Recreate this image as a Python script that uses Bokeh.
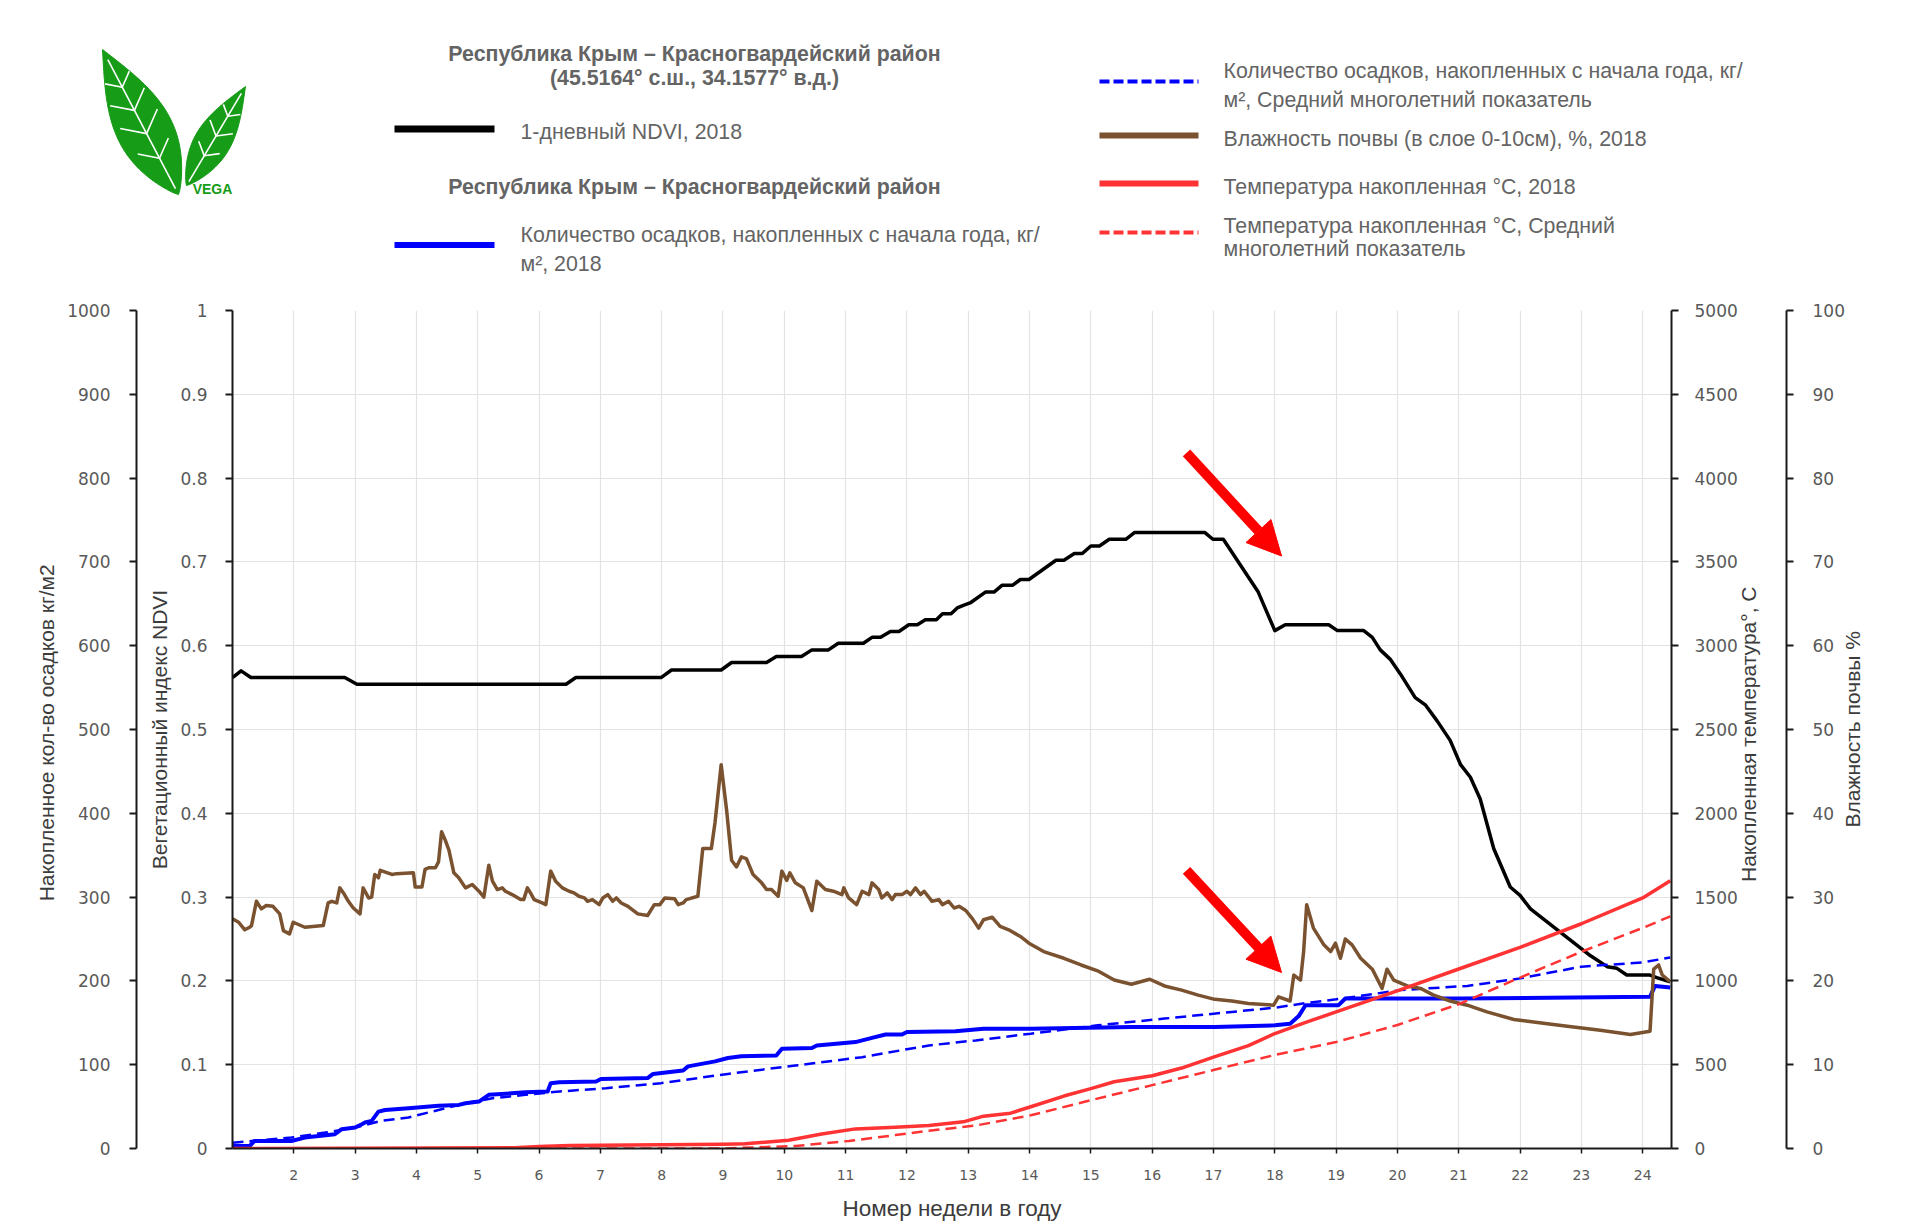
import json
import numpy as np
from bokeh.plotting import figure
from bokeh.models import (Range1d, LinearAxis, FixedTicker, CustomJSTickFormatter,
                          Arrow, NormalHead)
from bokeh.layouts import column
from bokeh.embed import file_html
from bokeh.resources import INLINE
from bokeh.core.properties import value

# ------------------------------------------------------------------ data
week_ticks = list(range(2, 25))
ndvi_ticks = [0, 0.1, 0.2, 0.3, 0.4, 0.5, 0.6, 0.7, 0.8, 0.9, 1]
precip_ticks = [0, 100, 200, 300, 400, 500, 600, 700, 800, 900, 1000]
temp_ticks = [0, 500, 1000, 1500, 2000, 2500, 3000, 3500, 4000, 4500, 5000]
soil_ticks = [0, 10, 20, 30, 40, 50, 60, 70, 80, 90, 100]

# 1-day NDVI 2018 (week number, index)
ndvi_week = [1.0, 1.14, 1.3, 2.83, 3.03, 6.44, 6.6, 7.99, 8.16, 8.97, 9.14, 9.71, 9.87,
             10.28, 10.45, 10.72, 10.88, 11.29, 11.43, 11.57, 11.73, 11.87, 12.03, 12.17,
             12.3, 12.48, 12.58, 12.72, 12.82, 12.92, 13.03, 13.28, 13.42, 13.55, 13.72,
             13.85, 13.99, 14.43, 14.56, 14.73, 14.86, 15.0, 15.14, 15.3, 15.57, 15.71,
             16.86, 16.99, 17.16, 17.73, 18.0, 18.17, 18.88, 19.02, 19.45, 19.59, 19.72,
             19.88, 20.05, 20.29, 20.46, 20.65, 20.86, 21.03, 21.19, 21.35, 21.57, 21.84,
             22.0, 22.17, 22.66, 23.15, 23.42, 23.58, 23.74, 24.12, 24.23, 24.45]
ndvi_value = [0.562, 0.570, 0.562, 0.562, 0.554, 0.554, 0.562, 0.562, 0.571, 0.571, 0.580,
              0.580, 0.587, 0.587, 0.595, 0.595, 0.603, 0.603, 0.610, 0.610, 0.617, 0.617,
              0.625, 0.625, 0.631, 0.631, 0.638, 0.638, 0.645, 0.648, 0.651, 0.664, 0.664,
              0.672, 0.672, 0.679, 0.679, 0.702, 0.702, 0.710, 0.710, 0.719, 0.719, 0.727,
              0.727, 0.735, 0.735, 0.727, 0.727, 0.664, 0.618, 0.625, 0.625, 0.618, 0.618,
              0.610, 0.595, 0.584, 0.566, 0.538, 0.529, 0.510, 0.487, 0.458, 0.443, 0.417,
              0.358, 0.312, 0.302, 0.286, 0.258, 0.230, 0.217, 0.215, 0.207, 0.207, 0.204,
              0.199]

# accumulated precipitation 2018, kg/m2
precip_week = [1.0, 1.28, 1.36, 1.96, 2.18, 2.67, 2.78, 3.0, 3.11, 3.16, 3.27, 3.38, 3.49,
               3.87, 4.36, 4.69, 4.8, 5.02, 5.18, 5.78, 6.14, 6.19, 6.33, 6.93, 7.01, 7.77,
               7.86, 8.1, 8.35, 8.43, 8.65, 8.87, 9.08, 9.3, 9.87, 9.96, 10.45, 10.53,
               11.16, 11.43, 11.65, 11.92, 12.0, 12.79, 13.25, 14.02, 15.66, 17.02, 18.0,
               18.25, 18.39, 18.5, 19.04, 19.15, 19.78, 21.03, 24.12, 24.2, 24.45]
precip_value = [3, 3, 9, 9, 13, 17, 23, 25, 29, 31, 33, 44, 46, 48, 51, 52, 54, 56, 64, 67,
                68, 78, 79, 80, 83, 84, 89, 91, 93, 98, 101, 104, 108, 110, 111, 119, 120,
                123, 127, 132, 136, 136, 139, 140, 143, 143, 145, 145, 147, 149, 158, 171,
                171, 179, 179, 179, 181, 194, 192]

# accumulated precipitation, long-term mean
precip_avg_week = [1.0, 1.96, 2.51, 3.0, 3.43, 3.87, 4.36, 4.8, 5.24, 5.78, 6.33, 7.09,
                   7.99, 9.08, 10.18, 11.27, 12.36, 13.12, 14.02, 15.11, 16.2, 17.3, 18.0,
                   18.55, 19.0, 20.05, 21.14, 22.0, 23.0, 24.0, 24.45]
precip_avg_value = [7, 13, 19, 25, 33, 37, 46, 54, 60, 64, 68, 72, 78, 89, 99, 109, 123,
                    129, 137, 147, 155, 163, 168, 174, 178, 189, 194, 203, 217, 222, 228]

# soil moisture (0-10 cm), %, 2018
soil_week = [1.0, 1.1, 1.2, 1.28, 1.31, 1.39, 1.47, 1.55, 1.66, 1.77, 1.83, 1.93, 1.99,
             2.18, 2.48, 2.56, 2.62, 2.7, 2.75, 2.81, 2.89, 2.97, 3.08, 3.13, 3.22, 3.27,
             3.32, 3.38, 3.41, 3.6, 3.68, 3.95, 3.98, 4.09, 4.14, 4.2, 4.31, 4.36, 4.41,
             4.47, 4.53, 4.61, 4.69, 4.8, 4.91, 5.02, 5.1, 5.18, 5.24, 5.32, 5.4, 5.45,
             5.56, 5.7, 5.75, 5.81, 5.86, 5.92, 6.05, 6.11, 6.19, 6.27, 6.38, 6.49, 6.57,
             6.65, 6.74, 6.79, 6.87, 6.98, 7.04, 7.12, 7.2, 7.26, 7.34, 7.45, 7.61, 7.77,
             7.88, 7.97, 8.05, 8.21, 8.27, 8.35, 8.4, 8.59, 8.67, 8.81, 8.87, 8.97, 9.06,
             9.14, 9.22, 9.3, 9.38, 9.49, 9.63, 9.71, 9.79, 9.9, 9.96, 10.04, 10.09, 10.18,
             10.31, 10.45, 10.53, 10.67, 10.8, 10.94, 10.97, 11.05, 11.18, 11.27, 11.38,
             11.43, 11.54, 11.59, 11.68, 11.76, 11.81, 11.92, 12.0, 12.06, 12.14, 12.22,
             12.28, 12.41, 12.52, 12.58, 12.68, 12.77, 12.85, 12.96, 13.07, 13.17, 13.25,
             13.39, 13.52, 13.66, 13.85, 13.99, 14.23, 14.56, 14.84, 15.11, 15.38, 15.66,
             15.96, 16.2, 16.48, 16.75, 17.02, 17.3, 17.57, 17.98, 18.06, 18.25, 18.31,
             18.42, 18.47, 18.52, 18.63, 18.8, 18.91, 18.99, 19.07, 19.15, 19.26, 19.4,
             19.59, 19.75, 19.83, 19.94, 20.16, 20.38, 20.59, 20.86, 21.14, 21.46, 21.9,
             22.22, 22.77, 23.31, 23.8, 24.12, 24.18, 24.26, 24.32, 24.45]
soil_value = [27.4, 27.0, 26.1, 26.4, 26.6, 29.5, 28.6, 29.0, 28.9, 28.0, 26.0, 25.6, 27.0,
              26.4, 26.6, 29.3, 29.5, 29.3, 31.1, 30.5, 29.5, 28.7, 28.0, 31.1, 29.9, 30.0,
              32.7, 32.3, 33.2, 32.7, 32.8, 32.9, 31.2, 31.2, 33.3, 33.5, 33.5, 34.2, 37.8,
              36.8, 35.6, 32.9, 32.3, 31.1, 31.5, 30.7, 30.0, 33.8, 31.9, 30.9, 31.1, 30.7,
              30.3, 29.7, 29.7, 31.1, 30.5, 29.7, 29.3, 29.1, 33.1, 31.9, 31.1, 30.7, 30.5,
              30.1, 29.9, 29.5, 29.7, 29.1, 29.9, 30.3, 29.5, 29.9, 29.3, 28.9, 28.0, 27.8,
              29.1, 29.1, 29.9, 29.8, 29.1, 29.3, 29.7, 30.1, 35.8, 35.8, 38.9, 45.8, 40.3,
              34.4, 33.6, 34.8, 34.6, 32.7, 31.7, 30.9, 30.9, 30.1, 33.1, 32.0, 32.9, 31.7,
              31.1, 28.4, 31.9, 30.9, 30.7, 30.3, 31.1, 29.9, 29.1, 30.7, 30.3, 31.7, 30.9,
              29.9, 30.5, 29.7, 30.3, 30.3, 30.7, 30.3, 31.1, 30.3, 30.7, 29.5, 29.7, 29.1,
              29.5, 28.7, 28.9, 28.4, 27.4, 26.3, 27.3, 27.6, 26.5, 26.1, 25.3, 24.5, 23.5,
              22.7, 21.9, 21.2, 20.1, 19.6, 20.2, 19.4, 18.9, 18.3, 17.8, 17.6, 17.3, 17.1,
              18.1, 17.6, 20.7, 20.1, 23.5, 29.1, 26.3, 24.3, 23.5, 24.5, 22.7, 25.0, 24.3,
              22.7, 21.4, 19.1, 21.4, 20.1, 19.4, 19.1, 18.3, 17.6, 17.1, 16.3, 15.4, 15.1,
              14.6, 14.1, 13.6, 14.0, 21.4, 21.9, 20.7, 19.9]

# accumulated temperature 2018, deg C
temp_week = [1.0, 3.0, 5.6, 6.0, 6.5, 7.0, 8.0, 9.0, 9.36, 10.07, 10.61, 11.16, 11.81,
             12.36, 12.92, 13.25, 13.69, 14.02, 14.56, 15.0, 15.38, 16.0, 16.48, 17.0,
             17.57, 18.0, 18.55, 19.0, 20.02, 21.0, 22.0, 23.0, 24.0, 24.45]
temp_value = [0, 2, 5, 12, 18, 20, 22, 25, 28, 49, 86, 117, 127, 137, 159, 193, 211, 249,
              313, 357, 398, 434, 480, 545, 614, 686, 758, 815, 943, 1071, 1200, 1341,
              1495, 1598]

# accumulated temperature, long-term mean
temp_avg_week = [1.0, 9.0, 10.18, 11.05, 11.81, 12.36, 13.12, 14.02, 15.0, 16.0, 17.0,
                 18.0, 19.0, 20.0, 21.0, 22.0, 23.0, 24.0, 24.45]
temp_avg_value = [0, 0, 15, 45, 80, 106, 137, 198, 288, 378, 468, 558, 635, 737, 861, 1020,
                  1174, 1316, 1385]

# texts
region_title = "Республика Крым – Красногвардейский район"
coords_title = "(45.5164° с.ш., 34.1577° в.д.)"
lbl_ndvi = "1-дневный NDVI, 2018"
lbl_precip = ["Количество осадков, накопленных с начала года, кг/", "м², 2018"]
lbl_precip_avg = ["Количество осадков, накопленных с начала года, кг/",
                  "м², Средний многолетний показатель"]
lbl_soil = "Влажность почвы (в слое 0-10см), %, 2018"
lbl_temp = "Температура накопленная °C, 2018"
lbl_temp_avg = ["Температура накопленная °C, Средний", "многолетний показатель"]
title_precip = "Накопленное кол-во осадков кг/м2"
title_ndvi = "Вегетационный индекс NDVI"
title_temp = "Накопленная температура°, С"
title_soil = "Влажность почвы %"
title_x = "Номер недели в году"

# ------------------------------------------------------------------ style
C_NDVI = "#000000"
C_BLUE = "#0000ff"
C_BROWN = "#7a5230"
C_RED = "#ff3333"
TXT = "#646464"
TITLE_C = "#3c3c3c"
TICK_C = "#595959"
SANS = "Liberation Sans"
TICKF = "DejaVu Sans"
LEG_FS = "21.33px"
TITLE_FS = "22.5px"
VTITLE_FS = "21px"

W = 1900
HEADER_H = 280

# ------------------------------------------------------------------ header (logo + legend)
hd = figure(frame_width=W, frame_height=HEADER_H, x_range=Range1d(0, W),
            y_range=Range1d(HEADER_H, 0), x_axis_type=None, y_axis_type=None,
            output_backend="svg", toolbar_location=None, min_border=0)
hd.outline_line_color = None
hd.grid.visible = False
if "frame_align" in hd.properties():
    hd.frame_align = False


def leaf(base, tip, half_w, n=50):
    bx, by = base
    tx, ty = tip
    t = np.linspace(0, 1, n)
    dx, dy = tx - bx, ty - by
    L = np.hypot(dx, dy)
    px, py = -dy / L, dx / L
    prof = half_w * np.sin(np.pi * t ** 0.85)
    ax, ay = bx + dx * t, by + dy * t
    xs = np.concatenate([ax + px * prof, (ax - px * prof)[::-1]])
    ys = np.concatenate([ay + py * prof, (ay - py * prof)[::-1]])
    return xs, ys, (bx, by, dx, dy, L, px, py)


def veins(geom, half_w, ts):
    bx, by, dx, dy, L, px, py = geom
    ux, uy = dx / L, dy / L
    vx = [[bx + dx * 0.04, bx + dx * 0.93]]
    vy = [[by + dy * 0.04, by + dy * 0.93]]
    for t in ts:
        cx, cy = bx + dx * t, by + dy * t
        w = 0.75 * half_w * np.sin(np.pi * t ** 0.85)
        for s in (1, -1):
            vx.append([cx, cx + s * px * w + ux * w * 0.8])
            vy.append([cy, cy + s * py * w + uy * w * 0.8])
    return vx, vy


lx, ly, g1 = leaf((178, 194), (102, 49), 28)
sx_, sy_, g2 = leaf((186, 185), (245, 86), 18)
hd.patch(lx, ly, fill_color="#169c16", line_color="#169c16")
hd.patch(sx_, sy_, fill_color="#169c16", line_color="#169c16")
v1x, v1y = veins(g1, 28, [0.25, 0.42, 0.58, 0.74])
v2x, v2y = veins(g2, 18, [0.3, 0.5, 0.7])
hd.multi_line(v1x + v2x, v1y + v2y, line_color="white", line_width=1.6)
hd.text(x=[212], y=[188], text=["VEGA"], text_font=value(SANS), text_font_style="bold",
        text_font_size="14px", text_color="#169c16", text_align="center",
        text_baseline="middle")

# legend: left column
hd.text(x=[694, 694, 694], y=[53, 77, 186], text=[region_title, coords_title, region_title],
        text_font=value(SANS), text_font_style="bold", text_font_size=LEG_FS,
        text_color=TXT, text_align="center", text_baseline="middle")
hd.line([394, 494], [128.5, 128.5], line_color=C_NDVI, line_width=7)
hd.line([394, 494], [244.5, 244.5], line_color=C_BLUE, line_width=6)
hd.text(x=[520, 520, 520], y=[131, 234.5, 263], text=[lbl_ndvi] + lbl_precip,
        text_font=value(SANS), text_font_size=LEG_FS, text_color=TXT,
        text_align="left", text_baseline="middle")
# legend: right column
hd.line([1099, 1198], [81, 81], line_color=C_BLUE, line_width=4, line_dash="10 4")
hd.line([1099, 1198], [135, 135], line_color=C_BROWN, line_width=6)
hd.line([1099, 1198], [183, 183], line_color=C_RED, line_width=6)
hd.line([1099, 1198], [232, 232], line_color=C_RED, line_width=4, line_dash="10 4")
hd.text(x=[1223] * 6, y=[70, 99, 138, 186, 225, 248.5],
        text=lbl_precip_avg + [lbl_soil, lbl_temp] + lbl_temp_avg,
        text_font=value(SANS), text_font_size=LEG_FS, text_color=TXT,
        text_align="left", text_baseline="middle")

# ------------------------------------------------------------------ main chart
X0, X1 = 1, 24.47
p = figure(width=W, height=943, x_range=Range1d(X0, X1), y_range=Range1d(0, 1),
           output_backend="svg", toolbar_location=None,
           min_border_left=232, min_border_right=W - 1671, min_border_top=30,
           min_border_bottom=74)
p.outline_line_color = None
if "frame_align" in p.properties():
    p.frame_align = False
p.extra_y_ranges = {"precip": Range1d(0, 1000), "temp": Range1d(0, 5000),
                    "soil": Range1d(0, 100)}


def style_axis(ax, standoff):
    ax.axis_line_color = "#1a1a1a"
    ax.axis_line_width = 2
    ax.major_tick_line_color = "#1a1a1a"
    ax.major_tick_line_width = 2
    ax.major_tick_out = 7
    ax.major_tick_in = 0
    ax.minor_tick_line_color = None
    ax.major_label_text_font = TICKF
    ax.major_label_text_font_size = "17px"
    ax.major_label_text_color = TICK_C
    ax.major_label_standoff = standoff


def title_axis(text, tick_v, orient, standoff, spacer=None):
    ax = LinearAxis(ticker=FixedTicker(ticks=[tick_v]),
                    formatter=CustomJSTickFormatter(
                        code="return %s;" % json.dumps(text, ensure_ascii=False)))
    ax.axis_line_color = None
    ax.major_tick_line_color = None
    ax.minor_tick_line_color = None
    ax.major_tick_out = 0
    ax.major_tick_in = 0
    ax.minor_tick_out = 0
    ax.minor_tick_in = 0
    ax.major_label_orientation = orient
    ax.major_label_standoff = standoff
    ax.major_label_text_font = SANS
    ax.major_label_text_font_size = VTITLE_FS
    ax.major_label_text_color = TITLE_C
    if spacer is not None:
        ax.axis_label = " "
        ax.axis_label_text_font_size = "1px"
        ax.axis_label_standoff = spacer
    return ax


# left side: NDVI axis, its title, precipitation axis, its title
ax_ndvi = p.yaxis[0]
ax_ndvi.ticker = FixedTicker(ticks=ndvi_ticks)
ax_ndvi.formatter = CustomJSTickFormatter(code="return String(Math.round(tick*10)/10);")
style_axis(ax_ndvi, 18)
p.add_layout(title_axis(title_ndvi, 0.5, "vertical", 7, spacer=4), "left")

ax_precip = LinearAxis(y_range_name="precip", ticker=FixedTicker(ticks=precip_ticks))
style_axis(ax_precip, 19)
p.add_layout(ax_precip, "left")
p.add_layout(title_axis(title_precip, 0.496, "vertical", 6), "left")

# right side: temperature axis, its title, soil moisture axis, its title
ax_temp = LinearAxis(y_range_name="temp", ticker=FixedTicker(ticks=temp_ticks))
style_axis(ax_temp, 16)
p.add_layout(ax_temp, "right")
p.add_layout(title_axis(title_temp, 0.318, np.pi / 2, 8, spacer=8), "right")

ax_soil = LinearAxis(y_range_name="soil", ticker=FixedTicker(ticks=soil_ticks))
style_axis(ax_soil, 19)
p.add_layout(ax_soil, "right")
p.add_layout(title_axis(title_soil, 0.383, np.pi / 2, 5), "right")

xa = p.xaxis[0]
xa.ticker = FixedTicker(ticks=week_ticks)
xa.axis_line_color = "#1a1a1a"
xa.axis_line_width = 2
xa.major_tick_line_color = "#1a1a1a"
xa.major_tick_line_width = 1.5
xa.major_tick_out = 5
xa.major_tick_in = 0
xa.minor_tick_line_color = None
xa.major_label_text_font = TICKF
xa.major_label_text_font_size = "14px"
xa.major_label_text_color = TICK_C
xa.major_label_standoff = 16
xa.axis_label = title_x
xa.axis_label_text_font = SANS
xa.axis_label_text_font_size = TITLE_FS
xa.axis_label_text_font_style = "normal"
xa.axis_label_text_color = TITLE_C
xa.axis_label_standoff = 13

p.xgrid.grid_line_color = "#e3e3e3"
p.ygrid.grid_line_color = "#e3e3e3"
p.xgrid.grid_line_width = 1.2
p.ygrid.grid_line_width = 1.2

# series
p.line(ndvi_week, ndvi_value, line_color=C_NDVI, line_width=3.5, line_join="round")
p.line(precip_week, precip_value, y_range_name="precip", line_color=C_BLUE,
       line_width=4, line_join="round")
p.line(precip_avg_week, precip_avg_value, y_range_name="precip", line_color=C_BLUE,
       line_width=2.5, line_dash="11 6")
p.line(soil_week, soil_value, y_range_name="soil", line_color=C_BROWN, line_width=3.5,
       line_join="round")
p.line(temp_week, temp_value, y_range_name="temp", line_color=C_RED, line_width=3.5,
       line_join="round")
p.line(temp_avg_week, temp_avg_value, y_range_name="temp", line_color=C_RED,
       line_width=2.5, line_dash="11 6")

# red arrows (annotations)
for (xs0, ys0, xe, ye) in [(16.56, 0.83, 18.11, 0.707), (16.56, 0.332, 18.11, 0.21)]:
    p.add_layout(Arrow(end=NormalHead(size=34, fill_color="#ff0000", line_color="#ff0000"),
                       x_start=xs0, y_start=ys0, x_end=xe, y_end=ye,
                       line_color="#ff0000", line_width=10))

layout = column(hd, p, spacing=0)
open("out.html", "w").write(file_html(layout, INLINE))
